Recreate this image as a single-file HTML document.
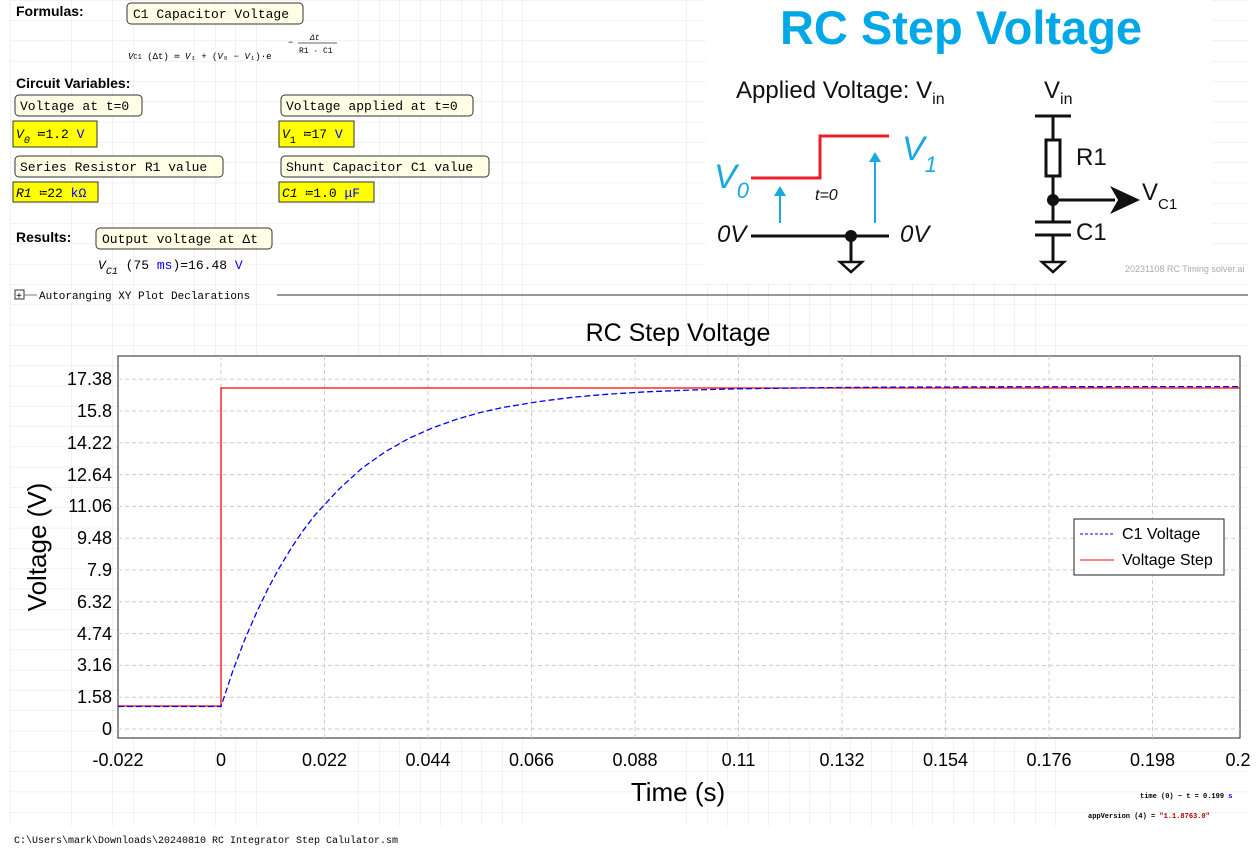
<!DOCTYPE html>
<html><head><style>
body{margin:0;background:#fff;}
svg{display:block;}
.m{font-family:"Liberation Mono",monospace;font-size:13px;}
.s{font-family:"Liberation Sans",sans-serif;}
</style></head><body>
<svg width="1258" height="848" viewBox="0 0 1258 848" xmlns="http://www.w3.org/2000/svg">
<defs>
<pattern id="g" x="10" y="0" width="20.5" height="20.3" patternUnits="userSpaceOnUse">
<path d="M0 0V21M0 0H21" stroke="#e4e4e4" stroke-width="1" fill="none"/>
</pattern>
</defs>
<rect x="10" y="0" width="1238" height="826" fill="url(#g)"/>
<rect x="0" y="826" width="1258" height="22" fill="#fff"/>

<g class="s" font-weight="bold" font-size="14">
<text x="16" y="16">Formulas:</text>
<text x="16" y="88">Circuit Variables:</text>
<text x="16" y="242">Results:</text>
</g>
<g class="m">
<rect x="127" y="3" width="176" height="21" rx="4" fill="#ffffe6" stroke="#333"/>
<text x="133" y="18">C1 Capacitor Voltage</text>
<rect x="15" y="95" width="127" height="21" rx="4" fill="#ffffe6" stroke="#333"/>
<text x="20" y="110">Voltage at t=0</text>
<rect x="281" y="95" width="192" height="21" rx="4" fill="#ffffe6" stroke="#333"/>
<text x="286" y="110">Voltage applied at t=0</text>
<rect x="15" y="156" width="208" height="21" rx="4" fill="#ffffe6" stroke="#333"/>
<text x="20" y="171">Series Resistor R1 value</text>
<rect x="281" y="156" width="208" height="21" rx="4" fill="#ffffe6" stroke="#333"/>
<text x="286" y="171">Shunt Capacitor C1 value</text>
<rect x="96" y="228" width="176" height="21" rx="4" fill="#ffffe6" stroke="#333"/>
<text x="102" y="243">Output voltage at Δt</text>
<rect x="13" y="121" width="84" height="26" fill="#ffff00" stroke="#333"/>
<text x="16" y="138"><tspan font-style="italic">V</tspan><tspan font-size="10" dy="5" font-style="italic">0</tspan><tspan dy="-5"> ≔1.2 </tspan><tspan fill="#00f">V</tspan></text>
<rect x="279" y="121" width="75" height="26" fill="#ffff00" stroke="#333"/>
<text x="282" y="138"><tspan font-style="italic">V</tspan><tspan font-size="10" dy="5">1</tspan><tspan dy="-5"> ≔17 </tspan><tspan fill="#00f">V</tspan></text>
<rect x="13" y="182" width="85" height="20" fill="#ffff00" stroke="#333"/>
<text x="16" y="197"><tspan font-style="italic">R1</tspan> ≔22 <tspan fill="#00f">kΩ</tspan></text>
<rect x="279" y="182" width="95" height="20" fill="#ffff00" stroke="#333"/>
<text x="282" y="197"><tspan font-style="italic">C1</tspan> ≔1.0 <tspan fill="#00f">μF</tspan></text>
<text x="98" y="269"><tspan font-style="italic">V</tspan><tspan font-size="10" dy="5" font-style="italic">C1</tspan><tspan dy="-5"> (75 </tspan><tspan fill="#00f">ms</tspan>)=16.48 <tspan fill="#00f">V</tspan></text>
<text x="128" y="59" font-size="9"><tspan font-style="italic">V</tspan><tspan font-size="7">C1</tspan> (Δt) ≔ <tspan font-style="italic">V</tspan>₁ + (<tspan font-style="italic">V</tspan>₀ − <tspan font-style="italic">V</tspan>₁)·e</text>
<text x="288" y="45" font-size="9">−</text>
<text x="310" y="40" font-size="8" font-style="italic">Δt</text>
<line x1="298" y1="43" x2="337" y2="43" stroke="#333" stroke-width="0.8"/>
<text x="299" y="53" font-size="8">R1 · C1</text>
<rect x="15" y="290" width="9" height="9" fill="#fff" stroke="#333"/>
<text x="16" y="299" font-size="10">+</text>
<line x1="24" y1="295" x2="37" y2="295" stroke="#777"/>
<text x="39" y="299" font-size="11">Autoranging XY Plot Declarations</text>
<line x1="277" y1="295" x2="1248" y2="295" stroke="#777" stroke-width="1.5"/>
<text x="14" y="843" font-size="10">C:\Users\mark\Downloads\20240810 RC Integrator Step Calulator.sm</text>
<text x="1140" y="798" font-size="7" font-weight="bold">time (0) − t = 0.199 <tspan fill="#00f">s</tspan></text>
<text x="1088" y="818" font-size="7" font-weight="bold">appVersion (4) = <tspan fill="#a00">"1.1.8763.0"</tspan></text>
</g>

<rect x="706" y="0" width="506" height="283" fill="#fff"/>
<g class="s">
<text x="961" y="44" font-size="47" font-weight="bold" fill="#00a8e8" text-anchor="middle">RC Step Voltage</text>
<text x="736" y="98" font-size="24" fill="#111">Applied Voltage: V<tspan font-size="16" dy="6">in</tspan></text>
<text x="1044" y="98" font-size="24" fill="#111">V<tspan font-size="16" dy="6">in</tspan></text>
<text x="714" y="188" font-size="34" font-style="italic" fill="#1aa8e0">V<tspan font-size="22" dy="10">0</tspan></text>
<text x="902" y="160" font-size="34" font-style="italic" fill="#1aa8e0">V<tspan font-size="22" dy="12">1</tspan></text>
<text x="815" y="200" font-size="16" font-style="italic" fill="#111">t=0</text>
<text x="717" y="242" font-size="24" font-style="italic" fill="#111">0V</text>
<text x="900" y="242" font-size="24" font-style="italic" fill="#111">0V</text>
<text x="1076" y="165" font-size="24" fill="#111">R1</text>
<text x="1076" y="240" font-size="24" fill="#111">C1</text>
<text x="1142" y="200" font-size="24" fill="#111">V<tspan font-size="15" dy="9">C1</tspan></text>
<text x="1125" y="272" font-size="9" fill="#aaa">20231108 RC Timing solver.ai</text>
</g>
<path d="M751 178H820V136H889" stroke="#e8202a" stroke-width="3" fill="none"/>
<path d="M780 223V192M875 223V158" stroke="#1aa8e0" stroke-width="2"/>
<path d="M774 196L780 186L786 196ZM869 162L875 152L881 162Z" fill="#1aa8e0"/>
<path d="M751 236H889M851 236V262M1035 116H1071M1053 116V140M1053 176V222M1035 222H1071M1035 235H1071M1053 235V262M1053 200H1115" stroke="#111" stroke-width="3" fill="none"/>
<rect x="1046" y="140" width="14" height="36" fill="#fff" stroke="#111" stroke-width="3"/>
<path d="M840 262H862L851 272ZM1042 262H1064L1053 272Z" fill="#fff" stroke="#111" stroke-width="2.5"/>
<circle cx="851" cy="236" r="6" fill="#111"/><circle cx="1053" cy="200" r="6" fill="#111"/>
<path d="M1110 186L1140 200L1110 214L1118 200Z" fill="#111"/>

<text x="678" y="341" class="s" font-size="25" text-anchor="middle">RC Step Voltage</text>
<rect x="118" y="356" width="1122" height="382" fill="#fff" stroke="#222"/>
<g stroke="#ccc" stroke-dasharray="4,3" stroke-width="1">
<path d="M118 729H1240M118 697.2H1240M118 665.4H1240M118 633.6H1240M118 601.8H1240M118 570H1240M118 538.2H1240M118 506.4H1240M118 474.6H1240M118 442.8H1240M118 411H1240M118 379.2H1240"/>
<path d="M221 356V738M324.5 356V738M428 356V738M531.5 356V738M635 356V738M738.5 356V738M842 356V738M945.5 356V738M1049 356V738M1152.5 356V738"/>
</g>
<g class="s" font-size="18" text-anchor="end">
<text x="112" y="735">0</text><text x="112" y="703">1.58</text><text x="112" y="671">3.16</text><text x="112" y="640">4.74</text><text x="112" y="608">6.32</text><text x="112" y="576">7.9</text><text x="112" y="544">9.48</text><text x="112" y="512">11.06</text><text x="112" y="481">12.64</text><text x="112" y="449">14.22</text><text x="112" y="417">15.8</text><text x="112" y="385">17.38</text>
</g>
<g class="s" font-size="18" text-anchor="middle">
<text x="118" y="766">-0.022</text><text x="221" y="766">0</text><text x="324.5" y="766">0.022</text><text x="428" y="766">0.044</text><text x="531.5" y="766">0.066</text><text x="635" y="766">0.088</text><text x="738.5" y="766">0.11</text><text x="842" y="766">0.132</text><text x="945.5" y="766">0.154</text><text x="1049" y="766">0.176</text><text x="1152.5" y="766">0.198</text><text x="1238" y="766">0.2</text>
<text x="678" y="801" font-size="26">Time (s)</text>
<text transform="translate(46 547) rotate(-90)" font-size="26">Voltage (V)</text>
</g>
<path d="M118 706H221V388H1240" stroke="#f00" stroke-width="1.3" fill="none"/>
<path d="M118 706.5H221L232.8 671L244.5 640.2L256.3 613L268 588.6L279.8 567L291.6 547.5L303.3 530.3L315.1 514.9L338.6 489.5L362.2 468L385.7 451.5L409.2 438.2L432.8 427.8L456.3 419.4L479.8 412.6L503.3 407.4L538.6 401.6L573.9 397.1L609.2 394.1L644.5 391.9L691.5 390L738.6 388.8L809 387.8L879.7 387.2L1000 386.8L1162 386.6L1240 386.6" stroke="#00f" stroke-width="1.3" stroke-dasharray="6,3" fill="none"/>
<rect x="1074" y="519" width="150" height="56" fill="#fff" stroke="#222"/>
<line x1="1080" y1="534" x2="1114" y2="534" stroke="#00f" stroke-dasharray="3,2"/>
<line x1="1080" y1="560" x2="1114" y2="560" stroke="#f00"/>
<text x="1122" y="539" class="s" font-size="16">C1 Voltage</text>
<text x="1122" y="565" class="s" font-size="16">Voltage Step</text>
</svg>
</body></html>
